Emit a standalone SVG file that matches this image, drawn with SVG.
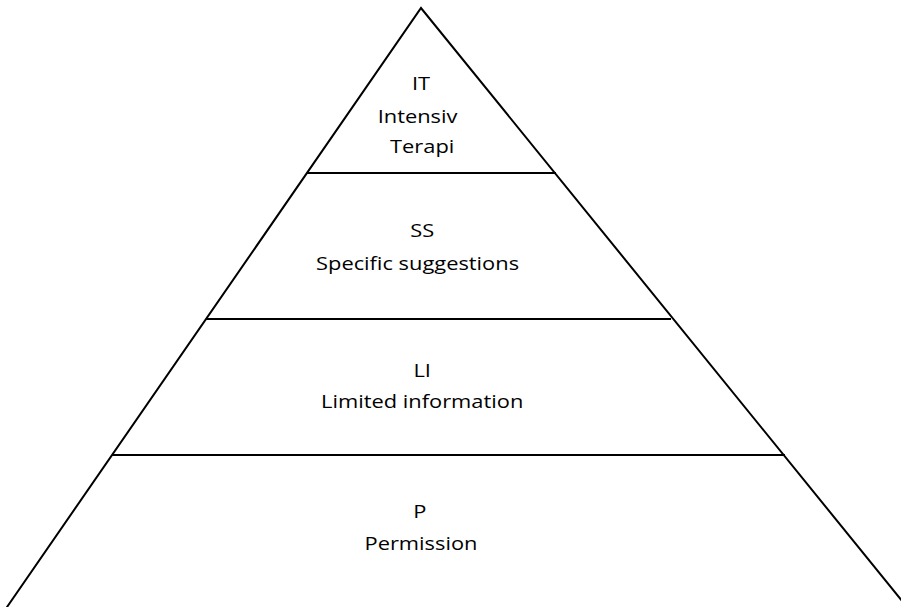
<svg xmlns="http://www.w3.org/2000/svg" width="901" height="607" viewBox="0 0 901 607">
<style>
.edge{stroke:#000;stroke-width:2;fill:none;stroke-linecap:square}
.lbl{font-family:"Open Sans","Noto Sans",sans-serif;font-size:19px;fill:#000;text-anchor:middle}
</style>
<rect width="901" height="607" fill="#fff"/>
<g id="connectors">
<path class="edge" d="M7,607 L421,8 L907,607"/>
<line class="edge" x1="308" y1="173" x2="555" y2="173"/>
<line class="edge" x1="207" y1="319" x2="670" y2="319"/>
<line class="edge" x1="113" y1="455" x2="784" y2="455"/>
</g>
<g id="level-it" transform="translate(421,0) scale(1.15,1)">
<text class="lbl" x="0" y="90">IT</text>
<text class="lbl" x="-3" y="123">Intensiv</text>
<text class="lbl" x="1" y="153">Terapi</text>
</g>
<g id="level-ss" transform="translate(421,0) scale(1.15,1)">
<text class="lbl" x="1" y="237">SS</text>
<text class="lbl" x="-3" y="270">Specific suggestions</text>
</g>
<g id="level-li" transform="translate(421,0) scale(1.15,1)">
<text class="lbl" x="1" y="377">LI</text>
<text class="lbl" x="1" y="408">Limited information</text>
</g>
<g id="level-p" transform="translate(421,0) scale(1.15,1)">
<text class="lbl" x="-1" y="518">P</text>
<text class="lbl" x="0" y="550">Permission</text>
</g>
</svg>
